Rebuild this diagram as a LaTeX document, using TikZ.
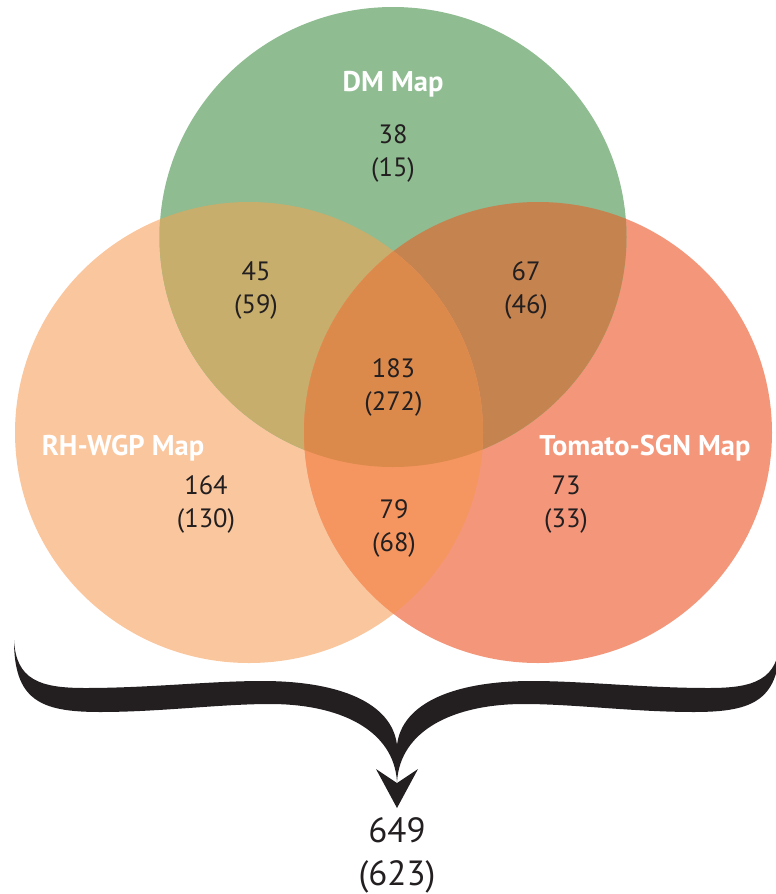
\documentclass[tikz,border=0pt]{standalone}
\usepackage{fontspec}
\setmainfont{PT Sans}
\definecolor{cgreen}{RGB}{143,188,145}
\definecolor{cpeach}{RGB}{250,198,157}
\definecolor{csalmon}{RGB}{244,150,122}
\definecolor{cgp}{RGB}{199,174,108}
\definecolor{cgs}{RGB}{196,131,79}
\definecolor{cps}{RGB}{245,150,96}
\definecolor{call}{RGB}{220,138,75}
\definecolor{ink}{RGB}{35,31,32}
\begin{document}
\begin{tikzpicture}[x=1pt,y=-1pt,
  num/.style={anchor=base,inner sep=0pt,text=ink,font=\fontsize{26.5}{31}\selectfont},
  setlabel/.style={anchor=base,inner sep=0pt,text=white,font=\fontsize{28.5}{33}\selectfont\bfseries},
  total/.style={anchor=base,inner sep=0pt,text=ink,font=\fontsize{35}{42}\selectfont}]
\useasboundingbox (0,0) rectangle (776,894);
\def\G{(393,237) ellipse [x radius=233.5,y radius=230]}
\def\P{(249,432.5) ellipse [x radius=234,y radius=230.5]}
\def\S{(538,432.5) ellipse [x radius=234,y radius=230.5]}
% base circles
\fill[cpeach] \P;
\fill[csalmon] \S;
\fill[cgreen] \G;
% pairwise overlaps
\begin{scope}\clip \G; \fill[cgp] \P; \end{scope}
\begin{scope}\clip \G; \fill[cgs] \S; \end{scope}
\begin{scope}\clip \P; \fill[cps] \S; \end{scope}
\begin{scope}\clip \G; \clip \P; \fill[call] \S; \end{scope}
% brace
\begin{scope}
\clip (0,0) rectangle (776,894);
\fill[ink]
  (14,640) .. controls (16,680) and (40,688) .. (85,688)
  .. controls (150,688) and (210,681) .. (262,681)
  .. controls (340,681) and (392,703) .. (397,745)
  .. controls (402,703) and (454,681) .. (532,681)
  .. controls (584,681) and (644,688) .. (709,688)
  .. controls (754,688) and (778,680) .. (780,640)
  .. controls (780,700) and (754,712) .. (694,712)
  .. controls (634,712) and (574,704) .. (524,704)
  .. controls (454,704) and (400,730) .. (397,782)
  .. controls (394,730) and (340,704) .. (270,704)
  .. controls (220,704) and (160,712) .. (100,712)
  .. controls (40,712) and (14,700) .. (14,640) -- cycle;
\end{scope}
\fill[ink] (376,769) -- (397,783) -- (418,769) -- (397,808) -- cycle;
% labels
\node[setlabel] (lDM) at (393,91) {DM Map};
\node[setlabel] (lRH) at (123,455) {RH-WGP Map};
\node[setlabel] (lTS) at (645,455) {Tomato-SGN Map};
% counts
\node[num] (a1) at (393,143.5) {38};
\node[num] (a2) at (393,176.5) {(15)};
\node[num] (b1) at (256,280.5) {45};
\node[num] (b2) at (256,313.5) {(59)};
\node[num] (c1) at (526,280.5) {67};
\node[num] (c2) at (526,313.5) {(46)};
\node[num] (d1) at (393.5,377) {183};
\node[num] (d2) at (393.5,410) {(272)};
\node[num] (e1) at (206,494) {164};
\node[num] (e2) at (206,527) {(130)};
\node[num] (f1) at (394,518) {79};
\node[num] (f2) at (394,551) {(68)};
\node[num] (g1) at (566,494) {73};
\node[num] (g2) at (566,527) {(33)};
\node[total] (t1) at (397,842) {649};
\node[total] (t2) at (397,885) {(623)};
\end{tikzpicture}
\end{document}
